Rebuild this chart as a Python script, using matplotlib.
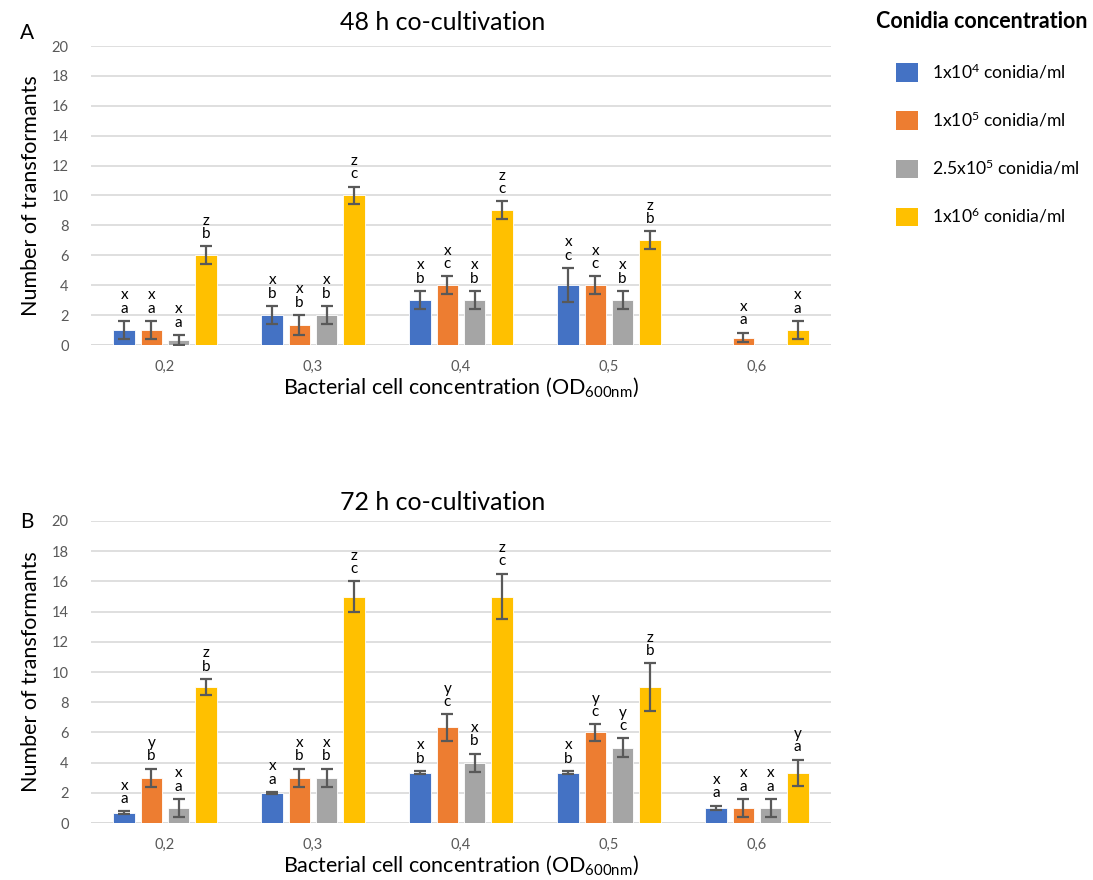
import numpy as np
import matplotlib
matplotlib.use('Agg')
import matplotlib.pyplot as plt

plt.rcParams['font.family'] = ['Lato', 'DejaVu Sans']
plt.rcParams['mathtext.default'] = 'regular'

ods = ['0,2', '0,3', '0,4', '0,5', '0,6']
conidia = ['1x10$^{4}$ conidia/ml', '1x10$^{5}$ conidia/ml',
           '2.5x10$^{5}$ conidia/ml', '1x10$^{6}$ conidia/ml']
colors = ['#4472C4', '#ED7D31', '#A5A5A5', '#FFC000']

# 48 h co-cultivation
m48_c1 = [1, 2, 3, 4, 0]
m48_c2 = [1, 1.33, 4, 4, 0.5]
m48_c3 = [0.33, 2, 3, 3, 0]
m48_c4 = [6, 10, 9, 7, 1]
e48_c1 = [0.6, 0.6, 0.6, 1.15, 0]
e48_c2 = [0.6, 0.67, 0.6, 0.6, 0.33]
e48_c3 = [0.33, 0.6, 0.6, 0.6, 0]
e48_c4 = [0.6, 0.6, 0.6, 0.6, 0.6]
l48_c1 = ['x\na', 'x\nb', 'x\nb', 'x\nc', '']
l48_c2 = ['x\na', 'x\nb', 'x\nc', 'x\nc', 'x\na']
l48_c3 = ['x\na', 'x\nb', 'x\nb', 'x\nb', '']
l48_c4 = ['z\nb', 'z\nc', 'z\nc', 'z\nb', 'x\na']

# 72 h co-cultivation
m72_c1 = [0.67, 2, 3.33, 3.33, 1]
m72_c2 = [3, 3, 6.33, 6, 1]
m72_c3 = [1, 3, 4, 5, 1]
m72_c4 = [9, 15, 15, 9, 3.33]
e72_c1 = [0.1, 0.05, 0.1, 0.1, 0.15]
e72_c2 = [0.6, 0.6, 0.87, 0.54, 0.6]
e72_c3 = [0.6, 0.6, 0.6, 0.6, 0.6]
e72_c4 = [0.53, 1.0, 1.52, 1.58, 0.86]
l72_c1 = ['x\na', 'x\na', 'x\nb', 'x\nb', 'x\na']
l72_c2 = ['y\nb', 'x\nb', 'y\nc', 'y\nc', 'x\na']
l72_c3 = ['x\na', 'x\nb', 'x\nb', 'y\nc', 'x\na']
l72_c4 = ['z\nb', 'z\nc', 'z\nc', 'z\nb', 'y\na']

W, H = 1093, 880
fig = plt.figure(figsize=(W / 100, H / 100), dpi=100)

step = 0.183
width = 0.148


def draw(ax, means, errs, letters):
    x = np.arange(len(ods))
    bars = []
    for i in range(4):
        xs = x + (i - 1.5) * step
        m = np.array(means[i], dtype=float)
        e = np.array(errs[i], dtype=float)
        b = ax.bar(xs, m, width, color=colors[i], edgecolor='white',
                   linewidth=0.6, label=conidia[i], zorder=3)
        bars.append(b)
        ok = m > 0
        ax.errorbar(xs[ok], m[ok], yerr=e[ok], fmt='none', ecolor='#595959',
                    elinewidth=1.6, capsize=4, capthick=1.6, zorder=4)
        for j in range(len(ods)):
            if letters[i][j]:
                top = m[j] + (e[j] if m[j] > 0 else 0)
                ax.text(xs[j], top + 0.35, letters[i][j], ha='center',
                        va='bottom', fontsize=11, linespacing=0.95,
                        color='black', zorder=5)
    ax.set_xlim(-0.5, len(ods) - 0.5)
    ax.set_ylim(0, 20)
    ax.set_yticks(range(0, 21, 2))
    ax.set_xticks(x)
    ax.set_xticklabels(ods)
    ax.tick_params(length=0, labelsize=10.5, labelcolor='#595959')
    ax.tick_params(axis='x', pad=11)
    ax.tick_params(axis='y', pad=16)
    ax.yaxis.grid(True, color='#d9d9d9', linewidth=1.2, zorder=0)
    for s in ax.spines.values():
        s.set_visible(False)
    ax.axhline(0, color='#d9d9d9', linewidth=1.2, zorder=1)
    ax.set_ylabel('Number of transformants', fontsize=15.5, labelpad=8)
    ax.set_xlabel(r'Bacterial cell concentration (OD$_{600nm}$)',
                  fontsize=15.5, labelpad=1)
    return bars


ax1 = fig.add_axes([91 / W, 1 - 345 / H, 740 / W, 299 / H])
bars = draw(ax1, [m48_c1, m48_c2, m48_c3, m48_c4],
            [e48_c1, e48_c2, e48_c3, e48_c4],
            [l48_c1, l48_c2, l48_c3, l48_c4])
ax2 = fig.add_axes([91 / W, 1 - 823 / H, 740 / W, 302 / H])
draw(ax2, [m72_c1, m72_c2, m72_c3, m72_c4],
     [e72_c1, e72_c2, e72_c3, e72_c4],
     [l72_c1, l72_c2, l72_c3, l72_c4])

fig.text(443 / W, 1 - 22 / H, '48 h co-cultivation', ha='center', va='center', fontsize=18)
fig.text(443 / W, 1 - 503 / H, '72 h co-cultivation', ha='center', va='center', fontsize=18)
fig.text(20 / W, 1 - 33 / H, 'A', ha='left', va='center', fontsize=15)
fig.text(20 / W, 1 - 522 / H, 'B', ha='left', va='center', fontsize=15)

fig.text(876 / W, 1 - 21 / H, 'Conidia concentration', ha='left', va='center',
         fontsize=15.5, fontweight='bold')
leg = fig.legend(handles=bars, labels=conidia, loc='upper left',
                 bbox_to_anchor=(896 / W, 1 - 62 / H), frameon=False,
                 fontsize=12.6, handlelength=1.26, handleheight=1.26,
                 labelspacing=1.62, handletextpad=0.8, borderpad=0,
                 borderaxespad=0)
for h in leg.legend_handles:
    h.set_edgecolor('none')

fig.savefig('out.png', dpi=100)
